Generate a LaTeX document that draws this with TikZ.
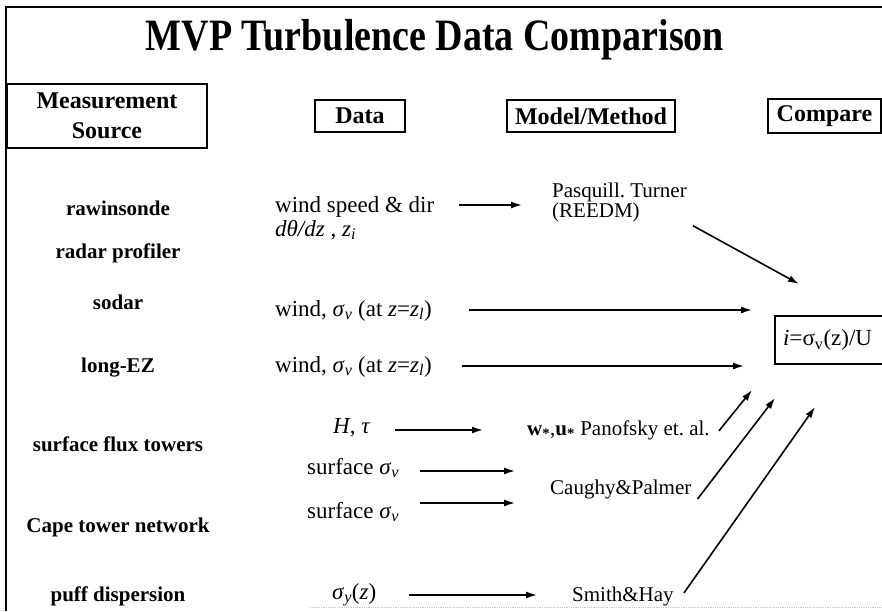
\documentclass[tikz,border=0pt]{standalone}
\usepackage{fontspec}
\setmainfont{Liberation Serif}
\usetikzlibrary{arrows.meta}
\frenchspacing
\begin{document}
\begin{tikzpicture}[x=1pt,y=-1pt,
  src/.style={font=\fontsize{21}{24}\selectfont\bfseries, inner sep=0pt},
  hdr/.style={draw, line width=1.5pt, font=\fontsize{24}{30}\selectfont\bfseries, inner sep=0pt, minimum height=32pt, align=center},
  dat/.style={font=\fontsize{23}{26}\selectfont, inner sep=0pt, anchor=west},
  mdl/.style={font=\fontsize{21}{20}\selectfont, inner sep=0pt, anchor=west, align=left},
  frm/.style={line width=1.6pt},
  arr/.style={line width=1.6pt, -{Latex[length=11pt,width=7pt]}}]
\useasboundingbox (0,0) rectangle (882,611);
% frame
\draw[frm] (882,7) -- (6,7) -- (6,611);
\draw[gray!45, line width=0.8pt, densely dotted] (310,607) -- (882,607);
% title
\node[font=\fontsize{38}{40}\selectfont\bfseries, inner sep=0pt, anchor=base] (title) at (435,50) {\scalebox{1}[1.18]{MVP Turbulence Data Comparison}};
% headers
\node[hdr, minimum width=200pt, minimum height=64pt] (hsrc) at (107,116) {Measurement\\Source};
\node[hdr, minimum width=90pt] (hdata) at (360,116) {Data};
\node[hdr, minimum width=168pt] (hmod) at (591,116) {Model/Method};
\node[hdr, minimum width=113pt, minimum height=34pt] (hcmp) at (824.5,116) {Compare};
% sources
\node[src, anchor=base] (raw) at (118,215) {rawinsonde};
\node[src, anchor=base] (rad) at (118,258) {radar profiler};
\node[src, anchor=base] (sod) at (118,309) {sodar};
\node[src, anchor=base] (lez) at (118,372) {long-EZ};
\node[src, anchor=base] (sft) at (118,451) {surface flux towers};
\node[src, anchor=base] (ctn) at (118,532) {Cape tower network};
\node[src, anchor=base] (puf) at (118,601) {puff dispersion};
% data
\node[dat, anchor=base west] (ws) at (275,212) {wind speed \& dir};
\node[dat, anchor=base west] (dth) at (275,236) {\textit{dθ/dz} , \textit{z}\textsubscript{\textit{i}}};
\node[dat, anchor=base west] (w1) at (275,316) {wind, \textit{σ}\textsubscript{\textit{v}} (at \textit{z}=\textit{z}\textsubscript{\textit{l}})};
\node[dat, anchor=base west] (w2) at (275,372) {wind, \textit{σ}\textsubscript{\textit{v}} (at \textit{z}=\textit{z}\textsubscript{\textit{l}})};
\node[dat, anchor=base west] (ht) at (333,433) {\textit{H}, \textit{τ}};
\node[dat, anchor=base west] (sv1) at (307,474) {surface \textit{σ}\textsubscript{\textit{v}}};
\node[dat, anchor=base west] (sv2) at (307,518) {surface \textit{σ}\textsubscript{\textit{v}}};
\node[dat, anchor=base west] (sy) at (332,599) {\textit{σ}\textsubscript{\textit{y}}(\textit{z})};
% models
\node[mdl] (pas) at (552,202) {Pasquill. Turner\\(REEDM)};
\node[mdl, anchor=base west] (pan) at (527,435) {\textbf{w}\textsubscript{\textbf{*}},\textbf{u}\textsubscript{\textbf{*}} Panofsky et. al.};
\node[mdl, anchor=base west] (cau) at (550,494) {Caughy\&Palmer};
\node[mdl, anchor=base west] (smh) at (572,601) {Smith\&Hay};
% compare
\node[font=\fontsize{23}{26}\selectfont, inner sep=0pt, anchor=west] (idx) at (783,340) {\textit{i}=σ\textsubscript{v}(z)/U};
\coordinate (bxa) at (775,316);
\coordinate (bxb) at (775,364);
\draw[frm] (bxa -| 890,0) -- (bxa) -- (bxb) -- (bxb -| 890,0);
% arrow end points
\coordinate (e1) at (522,205);
\coordinate (e2) at (799,284);
\coordinate (e3) at (752,310);
\coordinate (e4) at (744,366);
\coordinate (e5) at (483,430);
\coordinate (e6) at (515,471);
\coordinate (e7) at (515,503);
\coordinate (e8) at (537,595);
\coordinate (e9) at (752,390);
\coordinate (e10) at (775,398);
\coordinate (e11) at (815,407);
% arrows
\draw[arr] ([xshift=25pt]ws.east |- e1) -- (e1);
\draw[arr] ([xshift=6pt,yshift=-4pt]pas.south east) -- (e2);
\draw[arr] ([xshift=37pt]w1.east |- e3) -- (e3);
\draw[arr] ([xshift=30pt]w2.east |- e4) -- (e4);
\draw[arr] ([xshift=25pt]ht.east |- e5) -- (e5);
\draw[arr] ([xshift=21pt]sv1.east |- e6) -- (e6);
\draw[arr] ([xshift=21pt]sv2.east |- e7) -- (e7);
\draw[arr] ([xshift=33pt]sy.east |- e8) -- (e8);
\draw[arr] ([xshift=9pt,yshift=-1pt]pan.east) -- (e9);
\draw[arr] ([xshift=6pt,yshift=-10pt]cau.east) -- (e10);
\draw[arr] ([xshift=10pt,yshift=3pt]smh.east) -- (e11);
\end{tikzpicture}
\end{document}
